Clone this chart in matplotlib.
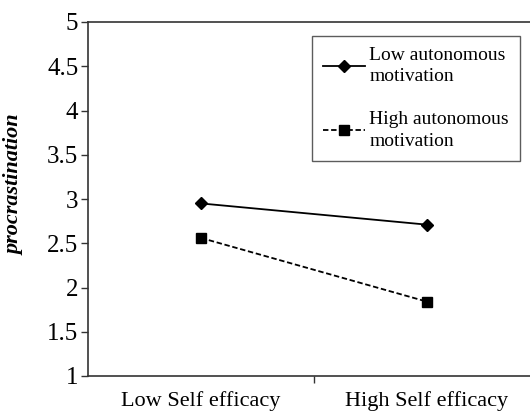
import matplotlib
matplotlib.use("Agg")
import matplotlib.pyplot as plt
from matplotlib.ticker import FixedLocator

# Data
categories = ["Low Self efficacy", "High Self efficacy"]
low_autonomous = [2.95, 2.71]
high_autonomous = [2.56, 1.84]
series_labels = ["Low autonomous\nmotivation", "High autonomous\nmotivation"]
y_ticks = [1, 1.5, 2, 2.5, 3, 3.5, 4, 4.5, 5]

plt.rcParams['font.family'] = ['Liberation Serif', 'DejaVu Serif']

fig = plt.figure(figsize=(5.3, 4.13), dpi=100)
W, H = 530, 413
left, right, top, bottom = 88, 540, 22, 376
ax = fig.add_axes([left / W, (H - bottom) / H, (right - left) / W, (bottom - top) / H])

x = list(range(len(categories)))
ax.plot(x, low_autonomous, color='black', linestyle='-', linewidth=1.3,
        marker='D', markersize=6, label=series_labels[0])
ax.plot(x, high_autonomous, color='black', linestyle=(0, (3, 1.5)), linewidth=1.3,
        marker='s', markersize=7, label=series_labels[1])

ax.set_xlim(-0.5, 1.5)
ax.set_ylim(1, 5)
ax.set_yticks(y_ticks)
ax.set_yticklabels([f"{v:g}" for v in y_ticks])
ax.set_xticks(x)
ax.set_xticklabels(categories)
ax.xaxis.set_minor_locator(FixedLocator([0.5]))
ax.tick_params(axis='x', which='major', length=0, labelsize=16, pad=11)
ax.tick_params(axis='x', which='minor', length=5, width=1, color='#333333')
ax.tick_params(axis='y', length=5, width=1, color='#333333', labelsize=18, pad=2)

for s in ax.spines.values():
    s.set_color('#333333')
    s.set_linewidth(1.2)

ax.set_ylabel("procrastination", fontsize=16, fontweight='bold', fontstyle='italic')
ax.yaxis.set_label_coords(-0.14, 0.54)

leg = ax.legend(loc='upper left', bbox_to_anchor=((312 - left) / (right - left), (376 - 36) / (bottom - top)),
                fontsize=14, frameon=True, fancybox=False, edgecolor='#333333',
                handlelength=2.2, handletextpad=0.2, labelspacing=1.35,
                borderpad=0.55, borderaxespad=0)
leg.get_frame().set_linewidth(1.0)
for t in leg.get_texts():
    t.set_linespacing(1.35)

fig.savefig("out.png", dpi=100)
